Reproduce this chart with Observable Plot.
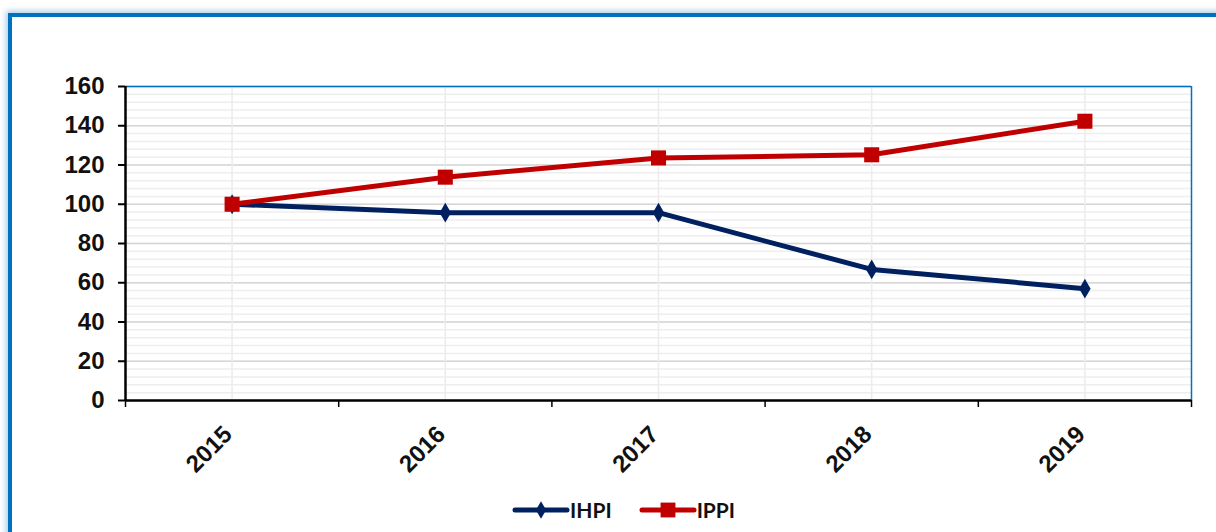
<!DOCTYPE html>
<html><head><meta charset="utf-8">
<script src="https://cdn.jsdelivr.net/npm/d3@7"></script>
<script src="https://cdn.jsdelivr.net/npm/@observablehq/plot@0.6"></script>
<style>
html,body{margin:0;padding:0;background:#fff;width:1216px;height:532px;overflow:hidden;}
#frame{position:absolute;left:8px;top:13px;width:1240px;height:560px;border-left:4px solid #0070C0;border-top:4px solid #0070C0;box-shadow:-2px -2px 6px rgba(0,112,192,0.35);}
#chart{position:absolute;left:0;top:0;}
#legend{position:absolute;top:497px;left:512px;display:flex;align-items:center;font-family:Lato,"Liberation Sans",sans-serif;font-weight:bold;font-size:21px;color:#111;}
#legend .item{display:flex;align-items:center;}
#legend svg{display:block;}
</style>
</head><body>
<div id="frame"></div>
<div id="chart"></div>
<div id="legend"></div>
<script>
const years = [2015, 2016, 2017, 2018, 2019];
const ihpi = [100, 95.7, 95.7, 66.8, 57.0];
const ippi = [100, 113.8, 123.6, 125.2, 142.3];
const yTicks = [0, 20, 40, 60, 80, 100, 120, 140, 160];
const seriesNames = ["IHPI", "IPPI"];
const seriesColors = ["#002060", "#C00000"];
const seriesSymbols = ["diamond", "square"];

const rows = [];
years.forEach((y, i) => {
  rows.push({year: y, value: ihpi[i], series: "IHPI"});
  rows.push({year: y, value: ippi[i], series: "IPPI"});
});
const boundaries = [years[0] - 0.5, ...years.map(y => y + 0.5)];
const minorTicks = d3.range(0, 161, 4);

const colorOf = s => seriesColors[seriesNames.indexOf(s)];

const chart = Plot.plot({
  width: 1216,
  height: 490,
  marginLeft: 125,
  marginRight: 25,
  marginTop: 86,
  marginBottom: 90,
  style: {fontFamily: "'Liberation Sans', Arial, sans-serif", background: "transparent"},
  x: {type: "linear", domain: [boundaries[0], boundaries[boundaries.length - 1]]},
  y: {domain: [0, 160]},
  marks: [
    Plot.gridY(minorTicks, {stroke: "#eeeeee", strokeOpacity: 1, strokeWidth: 1.5}),
    Plot.gridY(yTicks, {stroke: "#d6d6d6", strokeOpacity: 1, strokeWidth: 1.5}),
    Plot.gridX(years, {stroke: "#ececec", strokeOpacity: 1, strokeWidth: 1.5}),
    Plot.ruleY([160], {stroke: "#0070C0", strokeWidth: 1.5}),
    Plot.ruleX([boundaries[boundaries.length - 1]], {stroke: "#0070C0", strokeWidth: 1.5}),
    Plot.ruleX([boundaries[0]], {stroke: "#000", strokeWidth: 2.5}),
    Plot.ruleY([0], {stroke: "#000", strokeWidth: 2.5}),
    Plot.axisY(yTicks, {tickSize: 7, tickPadding: 14, tickFormat: d => String(d), fontSize: 24, fontWeight: "bold", fill: "#111", label: null, strokeWidth: 2}),
    Plot.axisX(boundaries, {tickSize: 7, tickFormat: () => "", label: null, strokeWidth: 1.5}),
    Plot.axisX(years, {tickSize: 0, tickRotate: -45, tickPadding: 30, tickFormat: d => String(d), fontSize: 24, fontWeight: "bold", fill: "#111", label: null, dx: -4}),
    Plot.line(rows, {x: "year", y: "value", z: "series", stroke: d => colorOf(d.series), strokeWidth: 5}),
    Plot.dot(rows.filter(d => d.series === "IHPI"), {x: "year", y: "value", symbol: "diamond", r: 6, fill: seriesColors[0], stroke: "none"}),
    Plot.dot(rows.filter(d => d.series === "IPPI"), {x: "year", y: "value", symbol: "square", r: 8.5, fill: seriesColors[1], stroke: "none"})
  ]
});
document.getElementById("chart").appendChild(chart);

const legend = document.getElementById("legend");
seriesNames.forEach((name, i) => {
  const item = document.createElement("div");
  item.className = "item";
  item.style.marginRight = i === 0 ? "27px" : "0";
  const sym = d3.symbol(seriesSymbols[i] === "diamond" ? d3.symbolDiamond : d3.symbolSquare, seriesSymbols[i] === "diamond" ? 90 : 220)();
  item.innerHTML = `<svg width="58" height="24"><line x1="3" x2="55" y1="12" y2="12" stroke="${seriesColors[i]}" stroke-width="5" stroke-linecap="round"/><path d="${sym}" transform="translate(29,12)" fill="${seriesColors[i]}"/></svg><span style="margin-left:0px">${name}</span>`;
  legend.appendChild(item);
});
</script>
</body></html>
